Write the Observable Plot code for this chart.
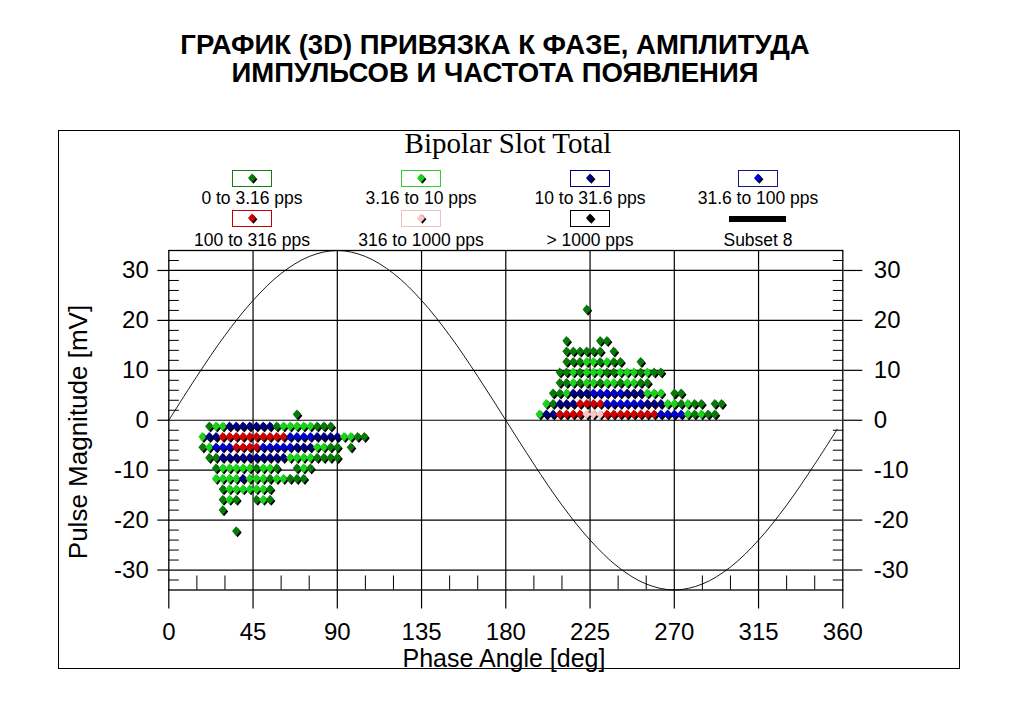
<!DOCTYPE html>
<html>
<head>
<meta charset="utf-8">
<script src="https://cdn.jsdelivr.net/npm/d3@7"></script>
<script src="https://cdn.jsdelivr.net/npm/@observablehq/plot@0.6"></script>
<style>
  body { margin: 0; background: #fff; }
  #page { position: relative; width: 1017px; height: 715px; overflow: hidden; font-family: "Liberation Sans", Arial, sans-serif; color: #000; }
  .abs { position: absolute; }
  #title { left: 0; width: 990px; top: 31px; text-align: center; font-weight: bold; font-size: 27.5px; line-height: 28px; white-space: nowrap; }
  #subtitle { left: 308px; width: 400px; top: 128px; text-align: center; font-family: "Liberation Serif", "Times New Roman", serif; font-size: 29px; line-height: 30px; }
  #box { left: 58px; top: 130px; width: 902px; height: 539px; border: 1.5px solid #000; box-sizing: border-box; pointer-events: none; }
  #xlabel { left: 304px; width: 400px; top: 646px; text-align: center; font-size: 25px; line-height: 25px; }
  #ylabel { left: -122px; width: 400px; top: 419px; text-align: center; font-size: 26px; line-height: 26px; transform: rotate(-90deg); }
  .lgbox { position: absolute; width: 40px; height: 17px; box-sizing: border-box; border: 1.3px solid; background: #fff; }
  .lgtext { position: absolute; width: 200px; text-align: center; font-size: 17.5px; line-height: 20px; white-space: nowrap; }
  #chart { left: 0; top: 120px; }
</style>
</head>
<body>
<div id="page">
  <div id="title" class="abs">ГРАФИК (3D) ПРИВЯЗКА К ФАЗЕ, АМПЛИТУДА<br>ИМПУЛЬСОВ И ЧАСТОТА ПОЯВЛЕНИЯ</div>
  <div id="chart" class="abs"></div>
  <div id="subtitle" class="abs">Bipolar Slot Total</div>
  <div id="legend"></div>
  <div id="xlabel" class="abs">Phase Angle [deg]</div>
  <div id="ylabel" class="abs">Pulse Magnitude [mV]</div>
  <div id="box" class="abs"></div>
</div>
<script>
// ---------- data ----------
const phaseTicks = [0, 45, 90, 135, 180, 225, 270, 315, 360];
const phaseGrid = [45, 90, 135, 180, 225, 270, 315];
const phaseMinor = [15, 30, 60, 75, 105, 120, 150, 165, 195, 210, 240, 255, 285, 300, 330, 345];
const magTicks = [-30, -20, -10, 0, 10, 20, 30];
const magMinor = [-32, -28, -26, -24, -22, -18, -16, -14, -12, -8, -6, -4, -2, 2, 4, 6, 8, 12, 14, 16, 18, 22, 24, 26, 28, 32];

const categories = ["0 to 3.16 pps", "3.16 to 10 pps", "10 to 31.6 pps", "31.6 to 100 pps",
                    "100 to 316 pps", "316 to 1000 pps", "> 1000 pps"];
const catCodes = ["D", "G", "N", "B", "R", "P", "K"];
const catColors = ["#087a08", "#18d418", "#00007c", "#0000cc", "#d00000", "#ffc4c4", "#000000"];
const catBorders = ["#1a7a1a", "#33cc33", "#00007c", "#14148a", "#c00000", "#f2c0c0", "#000000"];
const subsetLabel = "Subset 8";

// phase bins are 3.6 deg wide; each row: magnitude [mV], first bin index, category per bin ("." = empty)
const binWidth = 3.6;
const rowMags   = [22.2, 15.9, 13.8, 11.7, 9.6, 7.5, 5.4, 3.3, 1.2,
                   1.2, -1.2, -3.3, -5.4, -7.5, -9.6, -11.7, -13.8, -15.9, -18.0, -22.2];
const rowStarts = [62, 59, 59, 59, 58, 58, 57, 56, 55,
                   19, 6, 5, 5, 6, 7, 7, 8, 8, 8, 10];
const rowCodes  = [
  "D",
  "D....DD",
  "DDDDDD.D",
  "DDDGGDGDD..D",
  "DDGDGGGDDGGGDGDD",
  "DDGDGGDGGDGGDD",
  "DDGNNNBBBBBNNNGGG.DD",
  "GDNNNRRRRBBBBBBNNNGGDGDD.DD",
  "GNNRRRRPPPRRRRRRRRBBBBGDGDD",
  "D",
  "DGGNNNNNNNDGGGGGDDD",
  "GNNRRRRRRRRRRBBBBNNNNGGDD",
  "DGBBBRRRRBBBBBNNNGGDD.D",
  "DDNNNNNNNNNNGGGGDDDD",
  "DGGGGGDGGD..DGD",
  "GGGGNGGGDGGDDD",
  "DGGGGGGD",
  "DGD..DGD",
  "D",
  "D"
];

// reference sine ("Subset 8"), values read every 15 deg
const sinePhase = [0, 15, 30, 45, 60, 75, 90, 105, 120, 135, 150, 165, 180,
                   195, 210, 225, 240, 255, 270, 285, 300, 315, 330, 345, 357];
const sineMag = [0, 8.8, 17, 24, 29.4, 32.8, 34, 32.8, 29.4, 24, 17, 8.8, 0,
                 -8.8, -17, -24, -29.4, -32.8, -34, -32.8, -29.4, -24, -17, -8.8, -1.8];

// ---------- build tables ----------
const points = [];
rowMags.forEach((m, k) => {
  [...rowCodes[k]].forEach((c, j) => {
    if (c !== ".") points.push({phase: (rowStarts[k] + j) * binWidth, mag: m, cat: c});
  });
});
const sine = sinePhase.map((p, i) => ({phase: p, mag: sineMag[i]}));

const rhombus = {
  draw(context, size) {
    const s = Math.sqrt(size);
    const w = s * 0.58, h = s * 0.68;
    context.moveTo(0, -h); context.lineTo(w, 0); context.lineTo(0, h); context.lineTo(-w, 0); context.closePath();
  }
};

const gridStyle = {stroke: "black", strokeOpacity: 1, strokeWidth: 1.2};
const blank = () => "";

const chart = Plot.plot({
  width: 1017,
  height: 595,
  marginTop: 130,
  marginLeft: 168.3,
  marginRight: 174.7,
  marginBottom: 125.5,
  x: {domain: [0, 360]},
  y: {domain: [-34, 34]},
  color: {domain: catCodes, range: catColors},
  style: {background: "transparent", fontFamily: "'Liberation Sans', Arial, sans-serif", color: "black", overflow: "visible"},
  marks: [
    Plot.gridX({ticks: phaseGrid, ...gridStyle}),
    Plot.gridY({ticks: magTicks, ...gridStyle}),
    Plot.axisY({ticks: magTicks, anchor: "left", tickSize: 11, tickPadding: 9, label: null, fontSize: 24, tickFormat: d => String(d), strokeWidth: 1.2}),
    Plot.axisY({ticks: magTicks, anchor: "right", tickSize: 19, tickPadding: 12, label: null, fontSize: 24, tickFormat: d => String(d), strokeWidth: 1.2}),
    Plot.axisY({ticks: magMinor, anchor: "left", tickSize: 10.5, dx: 10.5, label: null, tickFormat: blank}),
    Plot.axisY({ticks: magMinor, anchor: "right", tickSize: 10.5, dx: -10.5, label: null, tickFormat: blank}),
    Plot.axisX({ticks: phaseTicks, anchor: "bottom", tickSize: 19, tickPadding: 14, label: null, fontSize: 24, strokeWidth: 1.2}),
    Plot.axisX({ticks: phaseMinor, anchor: "bottom", tickSize: 14, dy: -14, label: null, tickFormat: blank}),
    Plot.line(sine, {x: "phase", y: "mag", curve: "catmull-rom", stroke: "black", strokeWidth: 0.9}),
    Plot.dot(points, {x: "phase", y: "mag", symbol: rhombus, r: 4, fill: "black", dx: 1.4, dy: 1.4}),
    Plot.dot(points, {x: "phase", y: "mag", symbol: rhombus, r: 4, fill: "cat"}),
    Plot.frame({stroke: "black", strokeWidth: 1.3})
  ]
});
document.getElementById("chart").appendChild(chart);

// ---------- legend ----------
const legend = document.getElementById("legend");
const colX = [252, 421, 590, 758];
const rowBoxTop = [170, 210];
const rowTextTop = [188, 230];
function diamondSvg(color) {
  return `<svg width="38" height="15" style="position:absolute;left:0;top:0">
    <polygon points="20.4,3.8 24.4,8.3 20.4,12.8 16.4,8.3" fill="#000"/>
    <polygon points="19,2.5 23,7 19,11.5 15,7" fill="${color}"/></svg>`;
}
categories.forEach((label, i) => {
  const c = i % 4, r = Math.floor(i / 4);
  const box = document.createElement("div");
  box.className = "lgbox";
  box.style.left = (colX[c] - 20) + "px";
  box.style.top = rowBoxTop[r] + "px";
  box.style.borderColor = catBorders[i];
  box.innerHTML = diamondSvg(catColors[i]);
  legend.appendChild(box);
  const t = document.createElement("div");
  t.className = "lgtext";
  t.style.left = (colX[c] - 100) + "px";
  t.style.top = rowTextTop[r] + "px";
  t.textContent = label;
  legend.appendChild(t);
});
const bar = document.createElement("div");
bar.style.cssText = `position:absolute;left:${colX[3] - 29}px;top:216px;width:57px;height:6px;background:#000`;
legend.appendChild(bar);
const st = document.createElement("div");
st.className = "lgtext";
st.style.left = (colX[3] - 100) + "px";
st.style.top = rowTextTop[1] + "px";
st.textContent = subsetLabel;
legend.appendChild(st);
</script>
</body>
</html>
